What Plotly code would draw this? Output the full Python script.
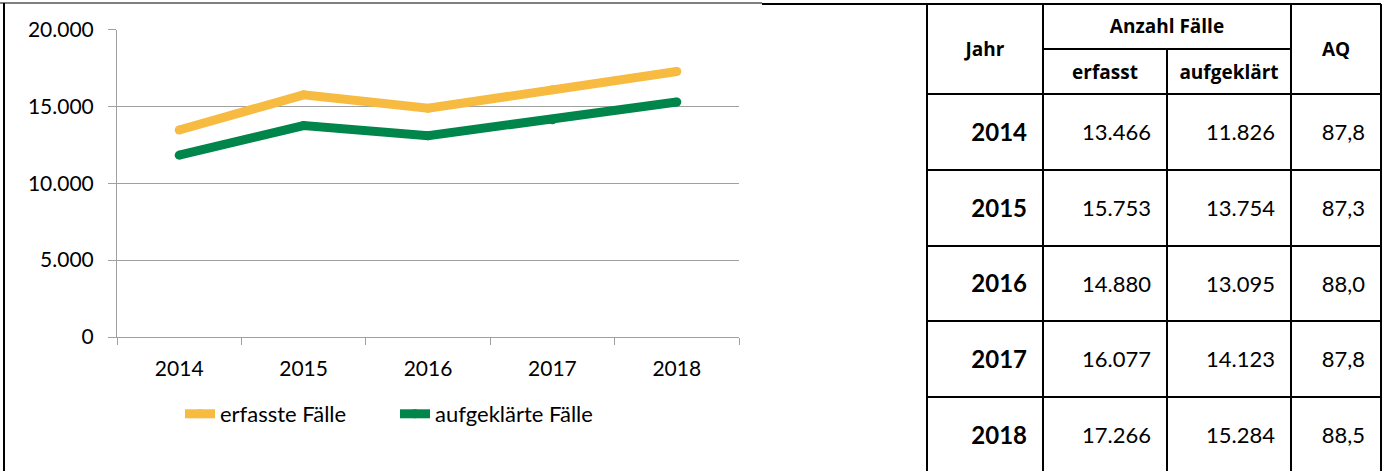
import plotly.graph_objects as go

# ---------------- data ----------------
years = ["2014", "2015", "2016", "2017", "2018"]
erfasst = [13466, 15753, 14880, 16077, 17266]
aufgeklaert = [11826, 13754, 13095, 14123, 15284]
aq = [87.8, 87.3, 88.0, 87.8, 88.5]
series_names = ["erfasste Fälle", "aufgeklärte Fälle"]
header_top = ["Jahr", "Anzahl Fälle", "AQ"]
header_sub = ["erfasst", "aufgeklärt"]

# ---------------- style ----------------
W, H = 1387, 471
YELLOW = "#F6BB40"
GREEN = "#00854A"
GRID = "#A0A0A0"
FONT = "Lato"
HFONT = "Open Sans"

def px_x(p):
    return p / W

def px_y(p):  # pixel from top -> paper
    return 1 - p / H

def de_int(v):
    return f"{v:,}".replace(",", ".")

def de_dec(v):
    return f"{v:.1f}".replace(".", ",")

fig = go.Figure()

# ---------------- line chart ----------------
for name, vals, col in [(series_names[0], erfasst, YELLOW), (series_names[1], aufgeklaert, GREEN)]:
    fig.add_trace(go.Scatter(
        x=years, y=vals, name=name, mode="lines+markers",
        line=dict(color=col, width=9),
        marker=dict(color=col, size=9),
        hoverinfo="skip",
    ))

# ---------------- table (on its own hidden axes) ----------------
col_w = [116, 124, 124, 90]
col_edges = [0]
for w in col_w:
    col_edges.append(col_edges[-1] + w)
row_edges = [0, 45, 90, 166, 242, 317, 393, 469]
PAD = 16
VOFF = 2.5

tx, ty, tt = [], [], []
bx, by, bt = [], [], []
for i, yr in enumerate(years):
    yc = (row_edges[i + 2] + row_edges[i + 3]) / 2 + VOFF
    bx.append(col_edges[1] - PAD); by.append(yc); bt.append(f"<b>{yr}</b>")
    tx += [col_edges[2] - PAD, col_edges[3] - PAD, col_edges[4] - PAD]
    ty += [yc, yc, yc]
    tt += [de_int(erfasst[i]), de_int(aufgeklaert[i]), de_dec(aq[i])]

fig.add_trace(go.Scatter(
    x=bx, y=by, text=bt, mode="text", textposition="middle left",
    textfont=dict(family=FONT, size=24, color="black"),
    xaxis="x2", yaxis="y2", showlegend=False, hoverinfo="skip", cliponaxis=False))
fig.add_trace(go.Scatter(
    x=tx, y=ty, text=tt, mode="text", textposition="middle left",
    textfont=dict(family=FONT, size=22, color="black"),
    xaxis="x2", yaxis="y2", showlegend=False, hoverinfo="skip", cliponaxis=False))

# header
hx = [(col_edges[0] + col_edges[1]) / 2, (col_edges[1] + col_edges[3]) / 2, (col_edges[3] + col_edges[4]) / 2,
      (col_edges[1] + col_edges[2]) / 2, (col_edges[2] + col_edges[3]) / 2]
hy = [row_edges[2] / 2 + 2, row_edges[1] / 2 + 2, row_edges[2] / 2 + 2,
      (row_edges[1] + row_edges[2]) / 2 + 3, (row_edges[1] + row_edges[2]) / 2 + 3]
ht = [f"<b>{t}</b>" for t in header_top + header_sub]
fig.add_trace(go.Scatter(
    x=hx, y=hy, text=ht, mode="text", textposition="middle center",
    textfont=dict(family=HFONT, size=19, color="black"),
    xaxis="x2", yaxis="y2", showlegend=False, hoverinfo="skip", cliponaxis=False))

shapes = []
LW = 2
# horizontal lines
for r in row_edges:
    if r == row_edges[1]:
        shapes.append(dict(type="line", xref="x2", yref="y2", x0=col_edges[1], x1=col_edges[3], y0=r, y1=r,
                           line=dict(color="black", width=LW)))
    else:
        shapes.append(dict(type="line", xref="x2", yref="y2", x0=col_edges[0], x1=col_edges[-1], y0=r, y1=r,
                           line=dict(color="black", width=LW)))
# vertical lines
for c in col_edges:
    y0 = row_edges[1] if c == col_edges[2] else row_edges[0]
    shapes.append(dict(type="line", xref="x2", yref="y2", x0=c, x1=c, y0=y0, y1=row_edges[-1],
                       line=dict(color="black", width=LW)))

# frame lines (paper)
shapes.append(dict(type="line", xref="paper", yref="paper", x0=px_x(0), x1=px_x(762), y0=px_y(3), y1=px_y(3),
                   line=dict(color="black", width=1)))
shapes.append(dict(type="line", xref="paper", yref="paper", x0=px_x(762), x1=px_x(928), y0=px_y(4), y1=px_y(4),
                   line=dict(color="black", width=2)))
shapes.append(dict(type="line", xref="paper", yref="paper", x0=px_x(4), x1=px_x(4), y0=px_y(3), y1=0,
                   line=dict(color="black", width=2)))

TBL_L, TBL_R, TBL_T = 927, 1381, 4
fig.update_layout(
    width=W, height=H,
    margin=dict(l=0, r=0, t=0, b=0, pad=0, autoexpand=False),
    paper_bgcolor="white", plot_bgcolor="white",
    separators=",.",
    font=dict(family=FONT, size=21, color="black"),
    shapes=shapes,
    showlegend=True,
    legend=dict(orientation="h", x=px_x(180), y=px_y(414), xanchor="left", yanchor="middle",
                font=dict(family=FONT, size=22, color="black"), bgcolor="rgba(0,0,0,0)",
                itemwidth=30, tracegroupgap=0, entrywidth=170),
    xaxis=dict(
        domain=[px_x(117), px_x(739)], type="category", range=[-0.5, 4.5],
        tickson="boundaries", ticks="outside", ticklen=7, tickcolor=GRID, tickwidth=1,
        showline=True, linecolor=GRID, linewidth=1, showgrid=False, zeroline=False,
        tickfont=dict(family=FONT, size=21, color="black"), ticklabelstandoff=13,
        anchor="y", fixedrange=True, automargin=False,
    ),
    yaxis=dict(
        domain=[px_y(337), px_y(29.5)], range=[0, 20000], dtick=5000, tick0=0,
        tickformat=",d", ticks="outside", ticklen=8, tickcolor=GRID, tickwidth=1,
        showline=True, linecolor=GRID, linewidth=1, showgrid=True, gridcolor=GRID, gridwidth=1,
        zeroline=False, tickfont=dict(family=FONT, size=21, color="black"), ticklabelstandoff=10,
        anchor="x", fixedrange=True, automargin=False,
    ),
    xaxis2=dict(domain=[px_x(TBL_L - 5), px_x(TBL_R + 5)], range=[-5, col_edges[-1] + 5],
                visible=False, anchor="y2", fixedrange=True),
    yaxis2=dict(domain=[0, px_y(TBL_T - 3)], range=[H - TBL_T, -3],
                visible=False, anchor="x2", fixedrange=True),
)

fig.write_html("out.html", config={"displayModeBar": False},
               post_script="document.body.style.margin='0';document.body.style.overflow='hidden';")
